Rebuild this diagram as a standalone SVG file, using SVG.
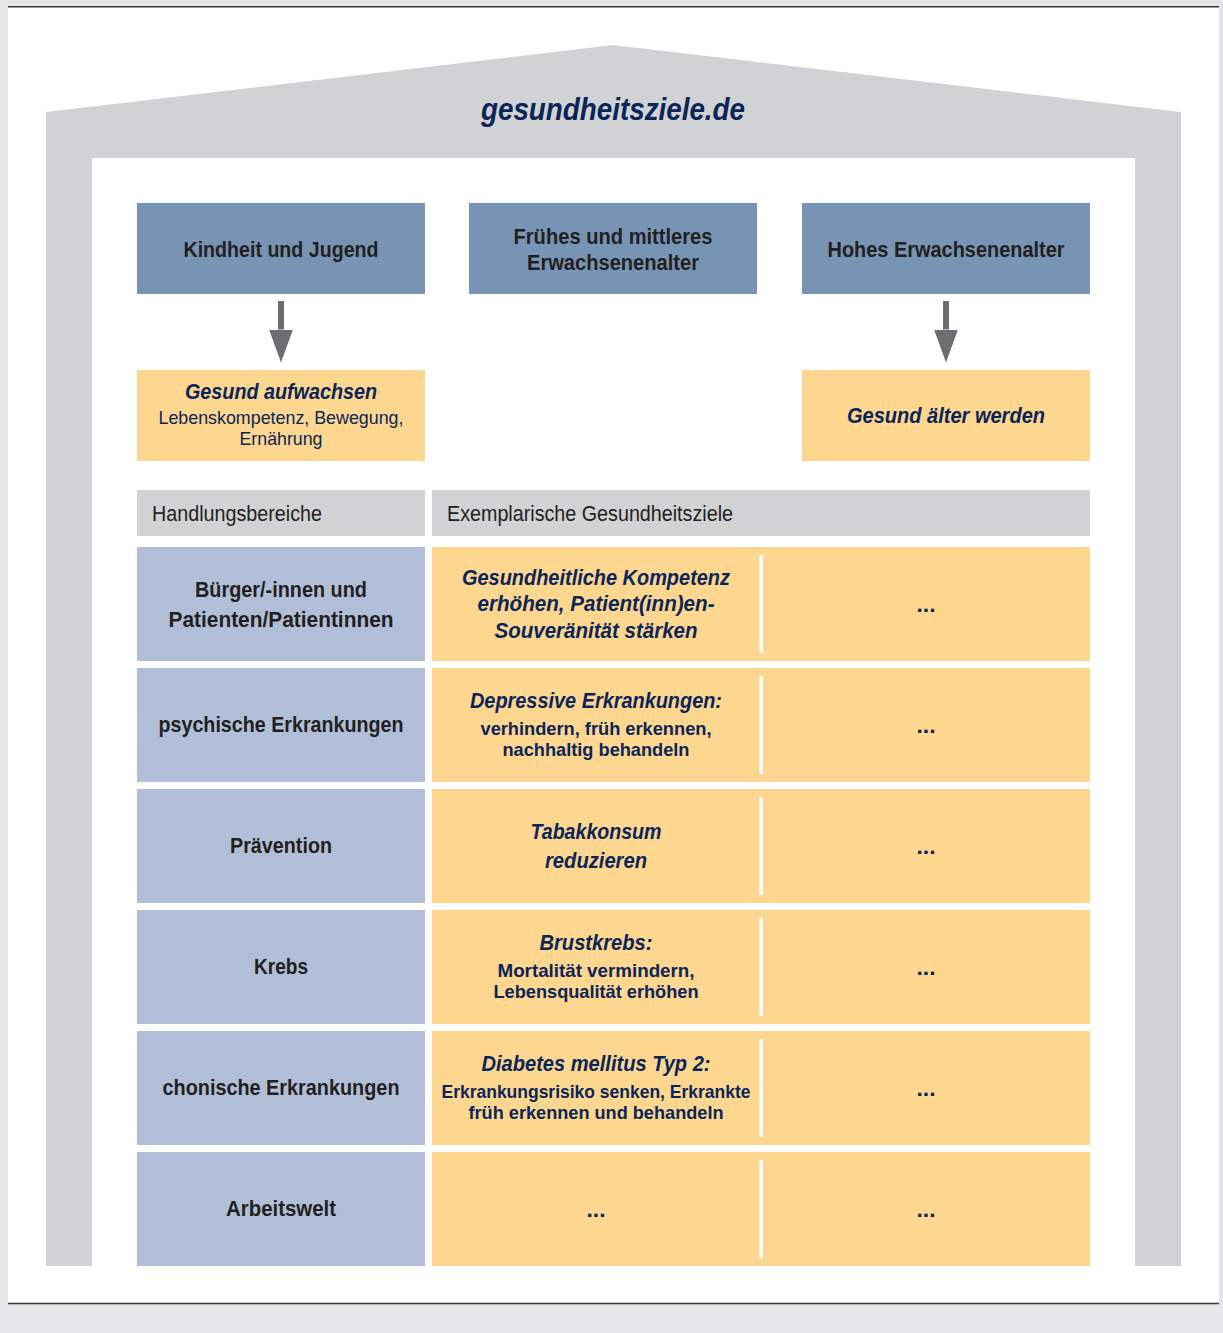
<svg xmlns="http://www.w3.org/2000/svg" width="1223" height="1333" viewBox="0 0 1223 1333">
<style>
.t{font-family:"Liberation Sans Narrow","Liberation Sans",Arial,sans-serif;text-anchor:middle;}
.dk{fill:#231f20;font-weight:bold;font-size:22.5px;}
.hd{fill:#231f20;font-weight:normal;font-size:22px;text-anchor:start;}
.nv{fill:#0b2559;font-weight:bold;font-style:italic;font-size:22.5px;}
.ns{fill:#0b2559;font-weight:bold;font-size:19px;}
.nr{fill:#0b2559;font-weight:normal;font-size:19px;}
.dots{fill:#0b2559;font-weight:bold;font-size:22px;}
.blue{fill:#7794b4;}
.lblue{fill:#b0bfd7;}
.yel{fill:#fdd68f;}
.gray{fill:#d1d2d4;}
.div{fill:#ffffff;}
.conn{stroke:#6d6e71;stroke-width:6;fill:none;}
</style>
<defs>
<marker id="ah" viewBox="0 0 33 24" refX="0" refY="12" markerWidth="33" markerHeight="24" markerUnits="userSpaceOnUse" orient="auto">
<path d="M0,0 L33,12 L0,24 z" fill="#6d6e71"/>
</marker>
</defs>
<rect x="0" y="0" width="1223" height="1333" fill="#e5e6e8"/>
<rect x="8" y="7" width="1211" height="1296" fill="#ffffff"/>
<line x1="8" y1="6.7" x2="1219" y2="6.7" stroke="#3a3a3a" stroke-width="1.6"/>
<line x1="8" y1="1303.5" x2="1219" y2="1303.5" stroke="#3a3a3a" stroke-width="1.6"/>

<g id="house">
<polygon class="gray" points="46,1266 46,112 613,45 1181,112 1181,1266"/>
<rect x="92" y="158" width="1043" height="1108" fill="#ffffff"/>
<text class="t nv" x="613" y="120" style="font-size:31px" textLength="264" lengthAdjust="spacingAndGlyphs">gesundheitsziele.de</text>
</g>

<g id="kindheit">
<rect class="blue" x="137" y="203" width="288" height="91"/>
<text class="t dk" x="281" y="257" textLength="195" lengthAdjust="spacingAndGlyphs">Kindheit und Jugend</text>
</g>
<g id="fruehes">
<rect class="blue" x="469" y="203" width="288" height="91"/>
<text class="t dk" x="613" y="244" textLength="199" lengthAdjust="spacingAndGlyphs">Frühes und mittleres</text>
<text class="t dk" x="613" y="270" textLength="172" lengthAdjust="spacingAndGlyphs">Erwachsenenalter</text>
</g>
<g id="hohes">
<rect class="blue" x="802" y="203" width="288" height="91"/>
<text class="t dk" x="946" y="257" textLength="237" lengthAdjust="spacingAndGlyphs">Hohes Erwachsenenalter</text>
</g>
<g id="aufwachsen">
<rect class="yel" x="137" y="370" width="288" height="91"/>
<text class="t nv" x="281" y="399" textLength="192" lengthAdjust="spacingAndGlyphs">Gesund aufwachsen</text>
<text class="t nr" x="281" y="424" textLength="245" lengthAdjust="spacingAndGlyphs">Lebenskompetenz, Bewegung,</text>
<text class="t nr" x="281" y="445" textLength="83" lengthAdjust="spacingAndGlyphs">Ernährung</text>
</g>
<g id="aelter">
<rect class="yel" x="802" y="370" width="288" height="91"/>
<text class="t nv" x="946" y="423" textLength="198" lengthAdjust="spacingAndGlyphs">Gesund älter werden</text>
</g>

<g id="connectors">
<line class="conn" x1="281" y1="301" x2="281" y2="329.5" marker-end="url(#ah)"/>
<line class="conn" x1="946" y1="301" x2="946" y2="329.5" marker-end="url(#ah)"/>
</g>

<g id="header-handlungsbereiche">
<rect class="gray" x="137" y="490" width="288" height="46"/>
<text class="t hd" x="152" y="521" textLength="170" lengthAdjust="spacingAndGlyphs">Handlungsbereiche</text>
</g>
<g id="header-ziele">
<rect class="gray" x="432" y="490" width="658" height="46"/>
<text class="t hd" x="447" y="521" textLength="286" lengthAdjust="spacingAndGlyphs">Exemplarische Gesundheitsziele</text>
</g>

<g id="row1">
<rect class="lblue" x="137" y="547" width="288" height="114"/>
<text class="t dk" x="281" y="597" textLength="172" lengthAdjust="spacingAndGlyphs">Bürger/-innen und</text>
<text class="t dk" x="281" y="627" textLength="225" lengthAdjust="spacingAndGlyphs">Patienten/Patientinnen</text>
<rect class="yel" x="432" y="547" width="658" height="114"/>
<rect class="div" x="759.5" y="555" width="3.5" height="98"/>
<text class="t nv" x="596" y="585" textLength="268" lengthAdjust="spacingAndGlyphs">Gesundheitliche Kompetenz</text>
<text class="t nv" x="596" y="611" textLength="237" lengthAdjust="spacingAndGlyphs">erhöhen, Patient(inn)en-</text>
<text class="t nv" x="596" y="638" textLength="203" lengthAdjust="spacingAndGlyphs">Souveränität stärken</text>
<text class="t dots" x="926" y="612" textLength="19" lengthAdjust="spacingAndGlyphs">...</text>
</g>

<g id="row2">
<rect class="lblue" x="137" y="668" width="288" height="114"/>
<text class="t dk" x="281" y="732" textLength="245" lengthAdjust="spacingAndGlyphs">psychische Erkrankungen</text>
<rect class="yel" x="432" y="668" width="658" height="114"/>
<rect class="div" x="759.5" y="676" width="3.5" height="98"/>
<text class="t nv" x="596" y="708" textLength="252" lengthAdjust="spacingAndGlyphs">Depressive Erkrankungen:</text>
<text class="t ns" x="596" y="735" textLength="231" lengthAdjust="spacingAndGlyphs">verhindern, früh erkennen,</text>
<text class="t ns" x="596" y="756" textLength="187" lengthAdjust="spacingAndGlyphs">nachhaltig behandeln</text>
<text class="t dots" x="926" y="733" textLength="19" lengthAdjust="spacingAndGlyphs">...</text>
</g>

<g id="row3">
<rect class="lblue" x="137" y="789" width="288" height="114"/>
<text class="t dk" x="281" y="853" textLength="102" lengthAdjust="spacingAndGlyphs">Prävention</text>
<rect class="yel" x="432" y="789" width="658" height="114"/>
<rect class="div" x="759.5" y="797" width="3.5" height="98"/>
<text class="t nv" x="596" y="839" textLength="131" lengthAdjust="spacingAndGlyphs">Tabakkonsum</text>
<text class="t nv" x="596" y="868" textLength="102" lengthAdjust="spacingAndGlyphs">reduzieren</text>
<text class="t dots" x="926" y="854" textLength="19" lengthAdjust="spacingAndGlyphs">...</text>
</g>

<g id="row4">
<rect class="lblue" x="137" y="910" width="288" height="114"/>
<text class="t dk" x="281" y="974" textLength="54" lengthAdjust="spacingAndGlyphs">Krebs</text>
<rect class="yel" x="432" y="910" width="658" height="114"/>
<rect class="div" x="759.5" y="918" width="3.5" height="98"/>
<text class="t nv" x="596" y="950" textLength="113" lengthAdjust="spacingAndGlyphs">Brustkrebs:</text>
<text class="t ns" x="596" y="977" textLength="197" lengthAdjust="spacingAndGlyphs">Mortalität vermindern,</text>
<text class="t ns" x="596" y="998" textLength="205" lengthAdjust="spacingAndGlyphs">Lebensqualität erhöhen</text>
<text class="t dots" x="926" y="975" textLength="19" lengthAdjust="spacingAndGlyphs">...</text>
</g>

<g id="row5">
<rect class="lblue" x="137" y="1031" width="288" height="114"/>
<text class="t dk" x="281" y="1095" textLength="237" lengthAdjust="spacingAndGlyphs">chonische Erkrankungen</text>
<rect class="yel" x="432" y="1031" width="658" height="114"/>
<rect class="div" x="759.5" y="1039" width="3.5" height="98"/>
<text class="t nv" x="596" y="1071" textLength="229" lengthAdjust="spacingAndGlyphs">Diabetes mellitus Typ 2:</text>
<text class="t ns" x="596" y="1098" textLength="309" lengthAdjust="spacingAndGlyphs">Erkrankungsrisiko senken, Erkrankte</text>
<text class="t ns" x="596" y="1119" textLength="255" lengthAdjust="spacingAndGlyphs">früh erkennen und behandeln</text>
<text class="t dots" x="926" y="1096" textLength="19" lengthAdjust="spacingAndGlyphs">...</text>
</g>

<g id="row6">
<rect class="lblue" x="137" y="1152" width="288" height="114"/>
<text class="t dk" x="281" y="1216" textLength="110" lengthAdjust="spacingAndGlyphs">Arbeitswelt</text>
<rect class="yel" x="432" y="1152" width="658" height="114"/>
<rect class="div" x="759.5" y="1160" width="3.5" height="98"/>
<text class="t dots" x="596" y="1217" textLength="19" lengthAdjust="spacingAndGlyphs">...</text>
<text class="t dots" x="926" y="1217" textLength="19" lengthAdjust="spacingAndGlyphs">...</text>
</g>
</svg>
